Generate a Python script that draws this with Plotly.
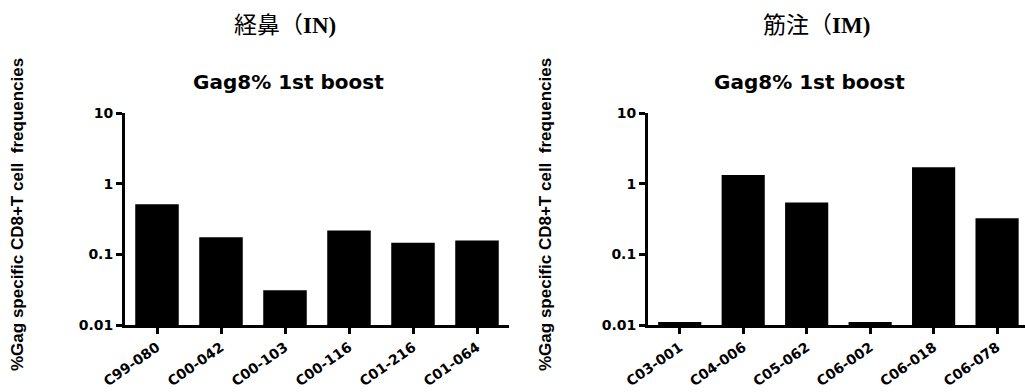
import plotly.graph_objects as go

# ---- data ----
in_labels = ["C99-080", "C00-042", "C00-103", "C00-116", "C01-216", "C01-064"]
in_values = [0.51, 0.175, 0.031, 0.218, 0.146, 0.157]

im_labels = ["C03-001", "C04-006", "C05-062", "C06-002", "C06-018", "C06-078"]
im_values = [0.011, 1.33, 0.54, 0.011, 1.71, 0.325]

y_tickvals = [0.01, 0.1, 1, 10]
y_ticktext = ["0.01", "0.1", "1", "10"]

panel_titles = ["経鼻（<b>IN)</b>", "筋注（<b>IM)</b>"]
sub_title = "Gag8% 1st boost"
y_title = "%Gag specific CD8+T cell  frequencies"

W, H = 1025, 392

fig = go.Figure()
fig.add_trace(go.Bar(x=in_labels, y=in_values, marker=dict(color="black", line=dict(width=0)),
                     width=0.68, xaxis="x", yaxis="y", showlegend=False))
fig.add_trace(go.Bar(x=im_labels, y=im_values, marker=dict(color="black", line=dict(width=0)),
                     width=0.68, xaxis="x2", yaxis="y2", showlegend=False))

tick_font = dict(family="DejaVu Sans", size=14, color="black", weight="bold")
xtick_font = dict(family="DejaVu Sans", size=14, color="black", weight="bold")

def xaxis(domain, rng, anchor):
    return dict(domain=domain, range=rng, anchor=anchor, type="category", automargin=False,
                showline=True, linewidth=3, linecolor="black",
                ticks="outside", ticklen=6, tickwidth=2.5, tickcolor="black",
                tickangle=-35, tickfont=xtick_font, showgrid=False, zeroline=False)

def yaxis(domain, anchor):
    return dict(domain=domain, type="log", range=[-2, 1], anchor=anchor, automargin=False,
                tickvals=y_tickvals, ticktext=y_ticktext,
                showline=True, linewidth=3, linecolor="black",
                ticks="outside", ticklen=6, tickwidth=2.5, tickcolor="black",
                tickfont=tick_font, showgrid=False, zeroline=False)

ydom = [(H - 325) / H, (H - 113) / H]
fig.update_layout(
    width=W, height=H,
    margin=dict(l=0, r=0, t=0, b=0, autoexpand=False),
    paper_bgcolor="white", plot_bgcolor="white",
    xaxis=xaxis([125 / W, 509 / W], [-0.5, 5.5], "y"),
    yaxis=yaxis(ydom, "x"),
    xaxis2=xaxis([648 / W, 1.0], [-0.5, 5.44], "y2"),
    yaxis2=yaxis(ydom, "x2"),
)

anns = []
for cx, t in zip([285, 816], panel_titles):
    anns.append(dict(text=t, x=cx / W, y=1 - 25 / H, xref="paper", yref="paper",
                     xanchor="center", yanchor="middle", showarrow=False,
                     font=dict(family="Liberation Serif, Noto Sans CJK JP", size=23, color="black")))
for cx in [288, 809]:
    anns.append(dict(text="<b>" + sub_title + "</b>", x=cx / W, y=1 - 82 / H, xref="paper", yref="paper",
                     xanchor="center", yanchor="middle", showarrow=False,
                     font=dict(family="DejaVu Sans", size=20, color="black")))
for cx in [17, 545]:
    anns.append(dict(text="<b>" + y_title + "</b>", x=cx / W, y=1 - 215 / H, xref="paper", yref="paper",
                     xanchor="center", yanchor="middle", showarrow=False, textangle=-90,
                     font=dict(family="Liberation Sans", size=17, color="black")))
fig.update_layout(annotations=anns)

fig.write_html("out.html")
